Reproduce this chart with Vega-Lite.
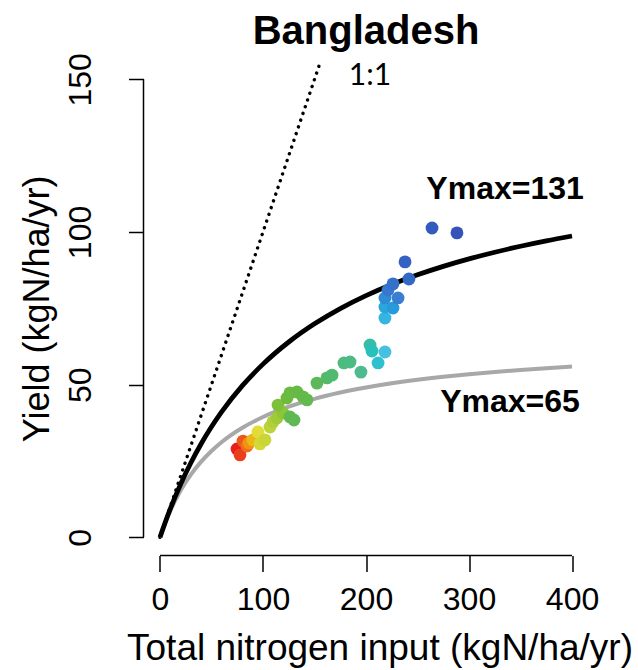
{
  "$schema": "https://vega.github.io/schema/vega-lite/v6.json",
  "width": 445,
  "height": 494.6,
  "autosize": {"type": "none"},
  "padding": {"left": 143.5, "top": 61, "right": 49.5, "bottom": 114.4},
  "background": "white",
  "config": {
    "view": {"stroke": null},
    "font": "Liberation Sans"
  },
  "title": {
    "text": "Bangladesh",
    "font": "Liberation Sans",
    "fontSize": 40,
    "fontWeight": "bold",
    "color": "black",
    "anchor": "middle",
    "offset": 1
  },
  "datasets": {
    "yields": [
      {"year": 1961, "n": 74.8, "y": 28.9},
      {"year": 1962, "n": 77.7, "y": 27.0},
      {"year": 1963, "n": 80.6, "y": 31.5},
      {"year": 1964, "n": 84.5, "y": 29.9},
      {"year": 1965, "n": 86.4, "y": 30.9},
      {"year": 1966, "n": 90.3, "y": 31.9},
      {"year": 1967, "n": 95.1, "y": 34.5},
      {"year": 1968, "n": 97.1, "y": 30.6},
      {"year": 1969, "n": 101.9, "y": 31.9},
      {"year": 1970, "n": 106.8, "y": 36.1},
      {"year": 1971, "n": 109.7, "y": 37.8},
      {"year": 1972, "n": 113.6, "y": 39.1},
      {"year": 1973, "n": 119.4, "y": 40.7},
      {"year": 1974, "n": 114.6, "y": 43.3},
      {"year": 1975, "n": 123.3, "y": 45.6},
      {"year": 1976, "n": 126.2, "y": 47.3},
      {"year": 1977, "n": 133.0, "y": 47.6},
      {"year": 1978, "n": 138.8, "y": 46.0},
      {"year": 1979, "n": 142.7, "y": 45.0},
      {"year": 1980, "n": 126.2, "y": 39.4},
      {"year": 1981, "n": 130.1, "y": 38.4},
      {"year": 1982, "n": 152.4, "y": 50.5},
      {"year": 1983, "n": 162.1, "y": 52.2},
      {"year": 1984, "n": 167.0, "y": 53.1},
      {"year": 1985, "n": 178.6, "y": 57.1},
      {"year": 1986, "n": 184.5, "y": 57.4},
      {"year": 1987, "n": 195.1, "y": 54.1},
      {"year": 1988, "n": 203.9, "y": 63.0},
      {"year": 1989, "n": 205.8, "y": 61.0},
      {"year": 1990, "n": 211.7, "y": 57.1},
      {"year": 1991, "n": 218.4, "y": 60.7},
      {"year": 1992, "n": 218.4, "y": 71.8},
      {"year": 1993, "n": 218.4, "y": 75.4},
      {"year": 1994, "n": 226.2, "y": 75.1},
      {"year": 1995, "n": 218.4, "y": 78.4},
      {"year": 1996, "n": 231.1, "y": 78.4},
      {"year": 1997, "n": 221.4, "y": 81.0},
      {"year": 1998, "n": 226.2, "y": 83.0},
      {"year": 1999, "n": 241.7, "y": 84.6},
      {"year": 2000, "n": 237.9, "y": 90.2},
      {"year": 2001, "n": 264.1, "y": 101.3},
      {"year": 2002, "n": 288.3, "y": 99.7}
    ],
    "curve131": [
      {"n": 0, "y": 0}, {"n": 5, "y": 4.816}, {"n": 10, "y": 9.291},
      {"n": 20, "y": 17.351}, {"n": 30, "y": 24.410}, {"n": 40, "y": 30.643},
      {"n": 50, "y": 36.188}, {"n": 60, "y": 41.152}, {"n": 80, "y": 49.668},
      {"n": 100, "y": 56.710}, {"n": 125, "y": 63.965}, {"n": 150, "y": 69.929},
      {"n": 175, "y": 74.918}, {"n": 200, "y": 79.154}, {"n": 225, "y": 82.795},
      {"n": 250, "y": 85.958}, {"n": 275, "y": 88.732}, {"n": 300, "y": 91.183},
      {"n": 325, "y": 93.367}, {"n": 350, "y": 95.322}, {"n": 375, "y": 97.085},
      {"n": 400, "y": 98.682}
    ],
    "curve65": [
      {"n": 0, "y": 0}, {"n": 5, "y": 4.643}, {"n": 10, "y": 8.667},
      {"n": 20, "y": 15.294}, {"n": 30, "y": 20.526}, {"n": 40, "y": 24.762},
      {"n": 50, "y": 28.261}, {"n": 60, "y": 31.2}, {"n": 80, "y": 35.862},
      {"n": 100, "y": 39.394}, {"n": 125, "y": 42.763}, {"n": 150, "y": 45.349},
      {"n": 175, "y": 47.396}, {"n": 200, "y": 49.057}, {"n": 225, "y": 50.431},
      {"n": 250, "y": 51.587}, {"n": 275, "y": 52.574}, {"n": 300, "y": 53.425},
      {"n": 325, "y": 54.167}, {"n": 350, "y": 54.819}, {"n": 375, "y": 55.398},
      {"n": 400, "y": 55.914}
    ],
    "oneToOne": [{"n": 0, "y": 0}, {"n": 156, "y": 156}],
    "xAxisLine": [{"from": 0, "to": 400, "at": -6}],
    "yAxisLine": [{"from": 0, "to": 150, "at": -16}],
    "labels": [
      {"n": 203.9, "y": 151.1, "text": "1:1", "kind": "ratio"},
      {"n": 335, "y": 114.1, "text": "Ymax=131", "kind": "ymax"},
      {"n": 339.8, "y": 44.3, "text": "Ymax=65", "kind": "ymax"}
    ]
  },
  "layer": [
    {
      "data": {"name": "xAxisLine"},
      "mark": {"type": "rule", "color": "black", "strokeWidth": 1.5},
      "encoding": {
        "x": {
          "field": "from", "type": "quantitative",
          "scale": {"domain": [-16, 416], "nice": false, "zero": false},
          "axis": {
            "values": [0, 100, 200, 300, 400],
            "domain": false, "grid": false,
            "tickSize": 16, "tickWidth": 1.5, "tickColor": "black",
            "labelFont": "Liberation Sans", "labelFontSize": 32, "labelColor": "black",
            "labelPadding": 13,
            "title": "Total nitrogen input (kgN/ha/yr)",
            "titleFont": "Liberation Sans", "titleFontSize": 37,
            "titleFontWeight": "normal", "titleColor": "black",
            "titleX": 236, "titleAlign": "center",
            "titlePadding": 15
          }
        },
        "x2": {"field": "to"},
        "y": {
          "field": "at", "type": "quantitative",
          "scale": {"domain": [-6, 156], "nice": false, "zero": false},
          "axis": {
            "values": [0, 50, 100, 150],
            "domain": false, "grid": false,
            "tickSize": 15, "tickWidth": 1.5, "tickColor": "black",
            "labelFont": "Liberation Sans", "labelFontSize": 32, "labelColor": "black",
            "labelAngle": -90, "labelAlign": "center", "labelBaseline": "alphabetic",
            "labelPadding": 38,
            "title": "Yield (kgN/ha/yr)",
            "titleFont": "Liberation Sans", "titleFontSize": 36,
            "titleFontWeight": "normal", "titleColor": "black",
            "titlePadding": 8
          }
        }
      }
    },
    {
      "data": {"name": "yAxisLine"},
      "mark": {"type": "rule", "color": "black", "strokeWidth": 1.5},
      "encoding": {
        "x": {"field": "at", "type": "quantitative"},
        "y": {"field": "from", "type": "quantitative"},
        "y2": {"field": "to"}
      }
    },
    {
      "data": {"name": "oneToOne"},
      "mark": {"type": "line", "color": "black", "strokeWidth": 3.4, "strokeCap": "round", "strokeDash": [0.1, 7], "clip": true},
      "encoding": {
        "x": {"field": "n", "type": "quantitative"},
        "y": {"field": "y", "type": "quantitative"}
      }
    },
    {
      "data": {"name": "curve65"},
      "mark": {"type": "line", "color": "#a8a8a8", "strokeWidth": 4, "interpolate": "monotone"},
      "encoding": {
        "x": {"field": "n", "type": "quantitative"},
        "y": {"field": "y", "type": "quantitative"}
      }
    },
    {
      "data": {"name": "curve131"},
      "mark": {"type": "line", "color": "black", "strokeWidth": 4.8, "interpolate": "monotone"},
      "encoding": {
        "x": {"field": "n", "type": "quantitative"},
        "y": {"field": "y", "type": "quantitative"}
      }
    },
    {
      "data": {"name": "yields"},
      "mark": {"type": "circle", "size": 165, "opacity": 1},
      "encoding": {
        "x": {"field": "n", "type": "quantitative"},
        "y": {"field": "y", "type": "quantitative"},
        "color": {
          "field": "year", "type": "quantitative", "legend": null,
          "scale": {
            "domain": [1961, 1964, 1967, 1971, 1975, 1982, 1987, 1991, 1996, 2002],
            "range": ["#e61e1e", "#f06a20", "#e2dc38", "#b0d03a", "#6cbb3c", "#5cb858", "#4dbb8e", "#45c0e0", "#3a7ed0", "#3454ba"]
          }
        }
      }
    },
    {
      "data": {"name": "labels"},
      "transform": [{"filter": "datum.kind === 'ymax'"}],
      "mark": {"type": "text", "font": "Liberation Sans", "fontSize": 32, "fontWeight": "bold", "color": "black", "align": "center", "baseline": "middle"},
      "encoding": {
        "x": {"field": "n", "type": "quantitative"},
        "y": {"field": "y", "type": "quantitative"},
        "text": {"field": "text"}
      }
    },
    {
      "data": {"name": "labels"},
      "transform": [{"filter": "datum.kind === 'ratio'"}],
      "mark": {"type": "text", "font": "Lato", "fontSize": 30, "color": "black", "align": "center", "baseline": "middle"},
      "encoding": {
        "x": {"field": "n", "type": "quantitative"},
        "y": {"field": "y", "type": "quantitative"},
        "text": {"field": "text"}
      }
    }
  ]
}
